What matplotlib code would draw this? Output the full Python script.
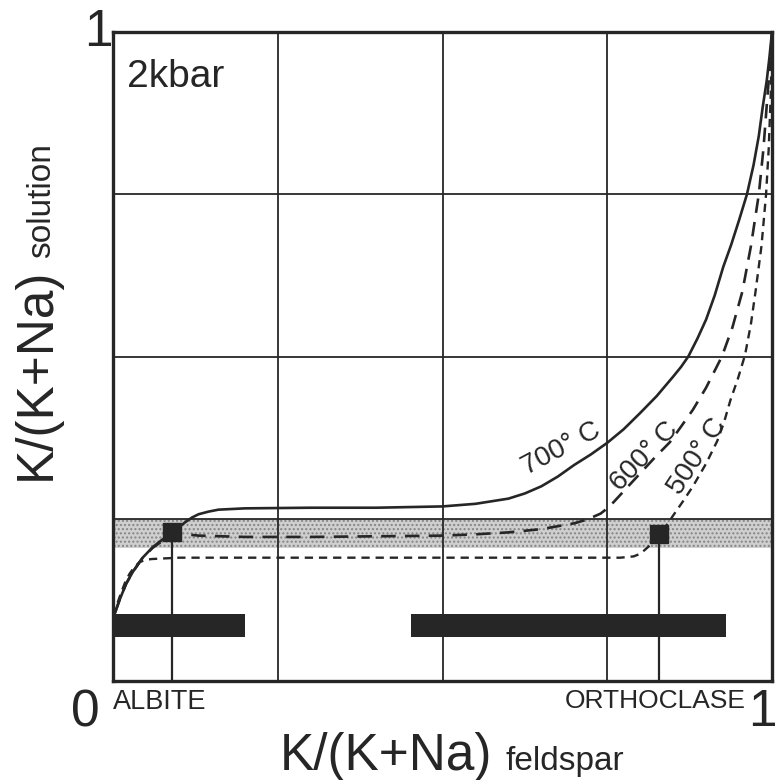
import numpy as np
import matplotlib
matplotlib.use("Agg")
import matplotlib.pyplot as plt

# =========================================================
# K/(K+Na) feldspar vs solution, 2 kbar
# =========================================================

plt.rcParams["font.family"] = ["Liberation Sans", "DejaVu Sans"]
plt.rcParams["hatch.color"] = "#858585"
plt.rcParams["hatch.linewidth"] = 1.0

INK = "#262626"

# curves
x_700 = [0.003, 0.01, 0.02, 0.03, 0.045, 0.06, 0.075, 0.09, 0.1, 0.11, 0.12, 0.13,
         0.145, 0.16, 0.18, 0.2, 0.3, 0.4, 0.5, 0.55, 0.6, 0.625, 0.65, 0.675, 0.7,
         0.725, 0.75, 0.775, 0.8, 0.825, 0.85, 0.862, 0.873, 0.887, 0.9, 0.913,
         0.926, 0.938, 0.95, 0.962, 0.972, 0.98, 0.986, 0.992, 0.996, 1.0]
y_700 = [0.105, 0.125, 0.15, 0.168, 0.19, 0.206, 0.218, 0.228, 0.237, 0.245, 0.252, 0.257,
         0.261, 0.264, 0.265, 0.266, 0.267, 0.267, 0.269, 0.273, 0.281, 0.289, 0.300, 0.315, 0.333,
         0.349, 0.367, 0.388, 0.413, 0.439, 0.469, 0.484, 0.5, 0.528, 0.557, 0.594,
         0.638, 0.672, 0.71, 0.75, 0.795, 0.84, 0.885, 0.925, 0.96, 1.0]

x_600 = [0.003, 0.01, 0.02, 0.03, 0.045, 0.06, 0.075, 0.09, 0.1, 0.11, 0.13, 0.2, 0.3,
         0.4, 0.5, 0.55, 0.6, 0.65, 0.7, 0.72, 0.74, 0.75, 0.76, 0.78, 0.8, 0.82, 0.845,
         0.862, 0.88, 0.9, 0.924, 0.94, 0.955, 0.968, 0.98, 0.987, 0.993, 0.997, 1.0]
y_600 = [0.105, 0.125, 0.15, 0.168, 0.19, 0.205, 0.216, 0.225, 0.227, 0.226, 0.224, 0.222, 0.222,
         0.223, 0.224, 0.226, 0.229, 0.234, 0.243, 0.249, 0.258, 0.266, 0.276, 0.298, 0.32, 0.342, 0.368,
         0.392, 0.418, 0.452, 0.5, 0.545, 0.6, 0.67, 0.75, 0.82, 0.9, 0.95, 1.0]

x_500 = [0.0, 0.006, 0.012, 0.018, 0.025, 0.032, 0.04, 0.05, 0.06, 0.1, 0.2, 0.3, 0.4,
         0.5, 0.6, 0.7, 0.77, 0.79, 0.8, 0.807, 0.818, 0.829, 0.84, 0.85, 0.865, 0.88,
         0.9, 0.917, 0.927, 0.937, 0.948, 0.959, 0.968, 0.975, 0.984, 0.991, 0.995,
         0.998, 1.0]
y_500 = [0.10, 0.118, 0.135, 0.151, 0.165, 0.175, 0.183, 0.187, 0.188, 0.19, 0.19, 0.19, 0.19,
         0.19, 0.19, 0.19, 0.19, 0.192, 0.196, 0.202, 0.212, 0.225, 0.24, 0.255, 0.277, 0.30,
         0.335, 0.37, 0.398, 0.433, 0.465, 0.502, 0.55, 0.6, 0.67, 0.75, 0.82,
         0.9, 1.0]

# shaded band of solution composition
band_low, band_high = 0.205, 0.25

# observed compositions (black squares)
marker_x = [0.09, 0.829]
marker_y = [0.229, 0.226]

# feldspar composition ranges (black bars)
bar_start = [0.0, 0.452]
bar_end = [0.20, 0.930]
bar_y = 0.086
bar_h = 0.035

curve_labels = ["700° C", "600° C", "500° C"]
label_x = [0.681, 0.806, 0.886]
label_y = [0.357, 0.346, 0.346]
label_rot = [28, 46, 57]

grid_pos = [0.25, 0.5, 0.75]


def main():
    fig = plt.figure(figsize=(7.78, 7.80), dpi=100)
    ax = fig.add_axes([113 / 778, 99 / 780, 659 / 778, 649 / 780])
    ax.set_xlim(0, 1)
    ax.set_ylim(0, 1)

    # band
    ax.fill_between([0, 1], band_low, band_high, facecolor="#cfcfcf",
                    edgecolor="none", hatch="....", zorder=1)

    # grid
    for g in grid_pos:
        ax.axvline(g, color=INK, lw=1.3, zorder=2)
        ax.axhline(g, color=INK, lw=1.3, zorder=2)

    # curves
    ax.plot(x_700, y_700, color=INK, lw=1.9, zorder=4)
    ax.plot(x_600, y_600, color=INK, lw=1.9, dashes=(5.5, 3.5), zorder=4)
    ax.plot(x_500, y_500, color=INK, lw=1.7, dashes=(3.5, 2.5), zorder=4)

    # bars
    widths = [e - s for s, e in zip(bar_start, bar_end)]
    ax.barh([bar_y, bar_y], widths, left=bar_start, height=bar_h,
            color=INK, zorder=5)

    # vertical lines + squares
    for mx, my in zip(marker_x, marker_y):
        ax.plot([mx, mx], [0, my], color=INK, lw=1.6, zorder=5)
    ax.plot(marker_x, marker_y, "s", color=INK, ms=13, zorder=6)

    # curve labels
    for t, lx, ly, r in zip(curve_labels, label_x, label_y, label_rot):
        ax.text(lx, ly, t, rotation=r, rotation_mode="anchor", ha="center",
                va="center", fontsize=20, color=INK, zorder=7)

    ax.text(0.022, 0.958, "2kbar", fontsize=28, color=INK, ha="left", va="top")

    for s in ax.spines.values():
        s.set_linewidth(2.4)
        s.set_color(INK)
    ax.set_xticks([])
    ax.set_yticks([])

    # axis end labels
    ax.text(-0.042, -0.05, "0", fontsize=37, color=INK, ha="center", va="center",
            transform=ax.transAxes, clip_on=False)
    ax.text(-0.022, 1.0, "1", fontsize=37, color=INK, ha="center", va="center",
            transform=ax.transAxes, clip_on=False)
    fig.text(777 / 778, 1 - 712 / 780, "1", fontsize=37, color=INK, ha="right",
             va="center")
    ax.text(0.0, -0.013, "ALBITE", fontsize=19.5, color=INK, ha="left", va="top",
            transform=ax.transAxes)
    ax.text(0.960, -0.013, "ORTHOCLASE", fontsize=19, color=INK, ha="right", va="top",
            transform=ax.transAxes)

    # axis titles
    fig.text(280 / 778, 1 - 770 / 780, "K/(K+Na)", fontsize=37, color=INK,
             ha="left", va="baseline")
    fig.text(505 / 778, 1 - 770 / 780, "feldspar", fontsize=24, color=INK,
             ha="left", va="baseline")
    fig.text(50 / 778, 1 - 480 / 780, "K/(K+Na)", fontsize=37, color=INK,
             ha="left", va="baseline", rotation=90, rotation_mode="anchor")
    fig.text(50 / 778, 1 - 258 / 780, "solution", fontsize=24, color=INK,
             ha="left", va="baseline", rotation=90, rotation_mode="anchor")

    fig.savefig("out.png", dpi=100)
    plt.close(fig)


if __name__ == "__main__":
    main()
